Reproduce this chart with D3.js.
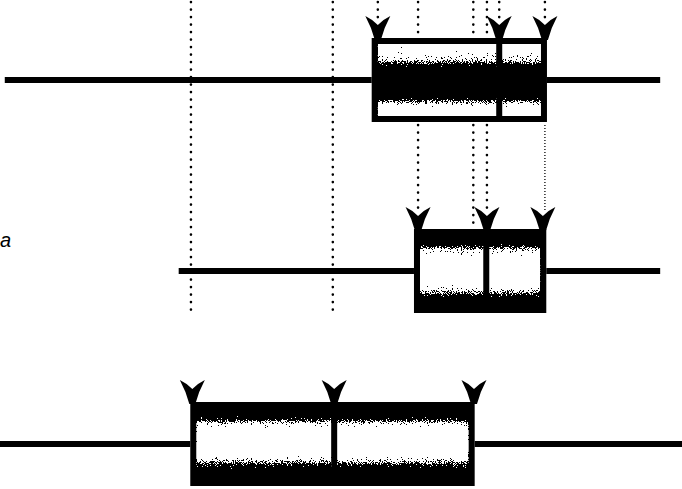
<!DOCTYPE html>
<html>
<head>
<meta charset="utf-8">
<script src="https://cdn.jsdelivr.net/npm/d3@7"></script>
<style>
html,body{margin:0;padding:0;background:#fff;}
svg{display:block;}
</style>
</head>
<body>
<svg id="chart" width="682" height="489"></svg>
<script>
// ---- data (abstract time units 0..100) ----
const rows = ["top", "middle", "bottom"];
const lineStart = [0.7, 26.2, 0];
const lineEnd = [96.8, 96.8, 100];
const boxStart = [54.5, 60.7, 27.9];
const boxEnd = [80.2, 80.1, 69.6];
const dividers = [73.2, 71.3, 49.0];
const arrows = [[55.4, 73.2, 79.9], [61.3, 71.4, 79.6], [28.2, 49.0, 69.5]];
const longGuides = [28.0, 48.8];
const topGuides = [55.4, 61.3, 69.4, 71.4, 73.2, 79.9];
const linkGuides = [61.3, 69.4, 71.4, 79.9];
const label = "a";

// ---- layout ----
const W = 682, H = 489;
const svg = d3.select("#chart");
const x = d3.scaleLinear().domain([0, 100]).range([0, W]);
const y = d3.scaleOrdinal().domain(rows).range([80, 271, 444]);
const halfUp = 42, halfDown = 42, border = 6, arrowH = 22;

const defs = svg.append("defs");
// grain filter: stochastic threshold dithering
const f = defs.append("filter").attr("id", "grain")
  .attr("x", 0).attr("y", 0).attr("width", 1).attr("height", 1)
  .attr("color-interpolation-filters", "sRGB");
f.append("feTurbulence").attr("type", "fractalNoise").attr("baseFrequency", 1.2)
  .attr("numOctaves", 2).attr("seed", 3).attr("result", "noise0");
f.append("feColorMatrix").attr("in", "noise0").attr("type", "matrix")
  .attr("values", "1 0 0 0 0  1 0 0 0 0  1 0 0 0 0  0 0 0 0 1").attr("result", "noise");
f.append("feComposite").attr("in", "SourceGraphic").attr("in2", "noise")
  .attr("operator", "arithmetic").attr("k1", 0).attr("k2", 1).attr("k3", 1.1).attr("k4", -0.55)
  .attr("result", "mix");
const ct = f.append("feComponentTransfer").attr("in", "mix").attr("result", "thr");
["R", "G", "B"].forEach(c => ct.append("feFunc" + c).attr("type", "discrete").attr("tableValues", "0 1"));
ct.append("feFuncA").attr("type", "table").attr("tableValues", "1 1");
f.append("feComposite").attr("in", "thr").attr("in2", "SourceAlpha").attr("operator", "in");

const gradStops = {
  top: [[0, 1], [0.1, 0.85], [0.22, 0.62], [0.34, 0.08], [0.72, 0], [0.79, 0.45], [0.87, 0.85], [1, 1]],
  middle: [[0, 0], [0.1, 0.05], [0.2, 0.6], [0.33, 0.95], [0.68, 0.95], [0.8, 0.5], [0.9, 0.05], [1, 0]],
  bottom: [[0, 0], [0.11, 0.05], [0.2, 0.6], [0.32, 0.95], [0.64, 0.95], [0.76, 0.5], [0.86, 0.05], [1, 0]]
};
rows.forEach(r => {
  const g = defs.append("linearGradient").attr("id", "g-" + r)
    .attr("x1", 0).attr("y1", 0).attr("x2", 0).attr("y2", 1);
  gradStops[r].forEach(([o, v]) => {
    const c = Math.round(v * 255);
    g.append("stop").attr("offset", o).attr("stop-color", `rgb(${c},${c},${c})`);
  });
});

// ---- dotted guides ----
const dotted = (sel) => sel.attr("stroke", "#000").attr("stroke-width", 2.6)
  .attr("stroke-linecap", "round").attr("stroke-dasharray", "0.1 7.4").attr("fill", "none");

const boxTop = r => y(r) - halfUp;
const boxBottom = r => y(r) + halfDown;

svg.append("g").selectAll("line").data(longGuides).join("line")
  .attr("x1", d => x(d)).attr("x2", d => x(d))
  .attr("y1", 2).attr("y2", 314).call(dotted);

const isArrow = (ri, v) => arrows[ri].some(a => Math.abs(a - v) < 0.6);
svg.append("g").selectAll("line").data(topGuides).join("line")
  .attr("x1", d => x(d)).attr("x2", d => x(d))
  .attr("y1", 2)
  .attr("y2", d => isArrow(0, d) ? boxTop("top") - arrowH + 4 : boxTop("top"))
  .call(dotted);

svg.append("g").selectAll("line").data(linkGuides).join("line")
  .attr("x1", d => x(d)).attr("x2", d => x(d))
  .attr("y1", boxBottom("top") + 3)
  .attr("y2", d => isArrow(1, d) ? boxTop("middle") - arrowH + 4 : boxTop("middle"))
  .call(dotted)
  .filter((d, i, n) => i === n.length - 1)
  .attr("stroke-width", 1.3).attr("stroke-dasharray", "1 2").attr("stroke-linecap", "butt");

// ---- rows ----
rows.forEach((r, i) => {
  const g = svg.append("g");
  const cy = y(r);
  // timeline
  g.append("line").attr("x1", x(lineStart[i])).attr("x2", x(boxStart[i]))
    .attr("y1", cy).attr("y2", cy).attr("stroke", "#000").attr("stroke-width", 6);
  g.append("line").attr("x1", x(boxEnd[i])).attr("x2", x(lineEnd[i]))
    .attr("y1", cy).attr("y2", cy).attr("stroke", "#000").attr("stroke-width", 6);
  // box
  const x0 = x(boxStart[i]), x1 = x(boxEnd[i]);
  g.append("rect").attr("x", x0).attr("y", boxTop(r))
    .attr("width", x1 - x0).attr("height", halfUp + halfDown).attr("fill", "#000");
  g.append("rect").attr("x", x0 + border).attr("y", boxTop(r) + border)
    .attr("width", x1 - x0 - 2 * border).attr("height", halfUp + halfDown - 2 * border)
    .attr("fill", `url(#g-${r})`).attr("filter", "url(#grain)");
  // divider
  g.append("rect").attr("x", x(dividers[i]) - 3).attr("y", boxTop(r))
    .attr("width", 6).attr("height", halfUp + halfDown).attr("fill", "#000");
  // arrows
  g.selectAll("path").data(arrows[i]).join("path")
    .attr("fill", "#000")
    .attr("d", d => {
      const ax = x(d), t = boxTop(r), top = t - arrowH;
      return `M${ax - 12.5},${top} Q${ax - 6},${top + 3} ${ax},${top + 9} Q${ax + 6},${top + 3} ${ax + 12.5},${top}` +
        ` Q${ax + 6},${top + 12} ${ax + 3},${t + 2} L${ax - 3},${t + 2} Q${ax - 6},${top + 12} ${ax - 12.5},${top} Z`;
    });
});

// label at left edge
svg.append("text").attr("x", 0).attr("y", 247)
  .attr("font-family", "Liberation Sans, Arial, sans-serif").attr("font-style", "italic")
  .attr("font-size", 20).attr("fill", "#000").text(label);
</script>
</body>
</html>
